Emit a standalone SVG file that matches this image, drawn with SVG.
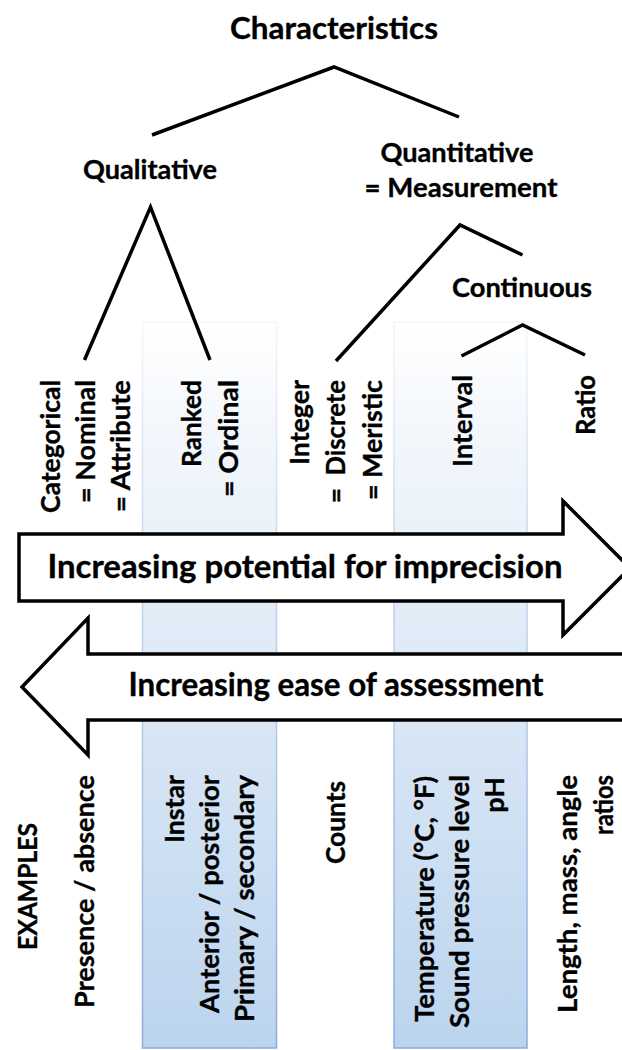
<svg xmlns="http://www.w3.org/2000/svg" width="622" height="1050" viewBox="0 0 622 1050">
  <defs>
    <linearGradient id="bandFill" gradientUnits="userSpaceOnUse" x1="0" y1="322" x2="0" y2="1048">
      <stop offset="0" stop-color="#ffffff"/>
      <stop offset="0.15" stop-color="#f3f7fc"/>
      <stop offset="1" stop-color="#bbd4ee"/>
    </linearGradient>
    <linearGradient id="bandStroke" gradientUnits="userSpaceOnUse" x1="0" y1="322" x2="0" y2="1048">
      <stop offset="0" stop-color="#f4f6fa"/>
      <stop offset="0.3" stop-color="#c9d8f0"/>
      <stop offset="1" stop-color="#8eaadb"/>
    </linearGradient>
  </defs>
  <style>
    text { font-family: Lato, "Open Sans", "Liberation Sans", sans-serif; font-weight: bold; fill: #000; stroke: #000; stroke-width: 0.35px; }
    .title { font-size: 31px; }
    .lbl { font-size: 27px; }
    .col { font-size: 27px; }
    .arr { font-size: 32px; }
    .band { fill: url(#bandFill); stroke: url(#bandStroke); stroke-width: 1.5; }
    .conn { stroke: #000; stroke-width: 3.5; fill: none; stroke-linecap: butt; stroke-linejoin: miter; }
    .arrow { fill: #fff; stroke: #000; stroke-width: 3.5; stroke-linejoin: miter; }
  </style>

  <rect width="622" height="1050" fill="#ffffff"/>

  <!-- shaded columns -->
  <g id="bands">
    <rect class="band" x="142.5" y="322" width="134" height="726"/>
    <rect class="band" x="394" y="322" width="133" height="726"/>
  </g>

  <!-- connectors -->
  <g id="connectors">
    <polyline class="conn" points="152,135 334,67 459,117"/>
    <polyline class="conn" points="84.5,360 150.5,207 210,360"/>
    <polyline class="conn" points="336,361 460,225 522.5,255"/>
    <polyline class="conn" points="461.5,356 522.5,325 585,355"/>
  </g>

  <g id="node-characteristics">
    <text class="title" x="334" y="39" text-anchor="middle" textLength="208" lengthAdjust="spacingAndGlyphs">Characteristics</text>
  </g>
  <g id="node-qualitative">
    <text class="lbl" x="150" y="179" text-anchor="middle" textLength="134" lengthAdjust="spacingAndGlyphs">Qualitative</text>
  </g>
  <g id="node-quantitative">
    <text class="lbl" x="457" y="162" text-anchor="middle" textLength="153" lengthAdjust="spacingAndGlyphs">Quantitative</text>
    <text class="lbl" x="461" y="197" text-anchor="middle" textLength="193" lengthAdjust="spacingAndGlyphs">= Measurement</text>
  </g>
  <g id="node-continuous">
    <text class="lbl" x="522" y="297" text-anchor="middle" textLength="140" lengthAdjust="spacingAndGlyphs">Continuous</text>
  </g>

  <g id="node-categorical">
    <text class="col" x="59.5" y="380" text-anchor="end" transform="rotate(-90 59.5 380)" textLength="133" lengthAdjust="spacingAndGlyphs">Categorical</text>
    <text class="col" x="94.5" y="380" text-anchor="end" transform="rotate(-90 94.5 380)" textLength="123" lengthAdjust="spacingAndGlyphs">= Nominal</text>
    <text class="col" x="130" y="380" text-anchor="end" transform="rotate(-90 130 380)" textLength="132" lengthAdjust="spacingAndGlyphs">= Attribute</text>
  </g>
  <g id="node-ranked">
    <text class="col" x="201" y="380" text-anchor="end" transform="rotate(-90 201 380)" textLength="87" lengthAdjust="spacingAndGlyphs">Ranked</text>
    <text class="col" x="238" y="380" text-anchor="end" transform="rotate(-90 238 380)" textLength="117" lengthAdjust="spacingAndGlyphs">= Ordinal</text>
  </g>
  <g id="node-integer">
    <text class="col" x="309" y="380" text-anchor="end" transform="rotate(-90 309 380)" textLength="85" lengthAdjust="spacingAndGlyphs">Integer</text>
    <text class="col" x="345" y="380" text-anchor="end" transform="rotate(-90 345 380)" textLength="123" lengthAdjust="spacingAndGlyphs" xml:space="preserve">=  Discrete</text>
    <text class="col" x="382" y="380" text-anchor="end" transform="rotate(-90 382 380)" textLength="120" lengthAdjust="spacingAndGlyphs">= Meristic</text>
  </g>
  <g id="node-interval">
    <text class="col" x="472" y="375" text-anchor="end" transform="rotate(-90 472 375)" textLength="92" lengthAdjust="spacingAndGlyphs">Interval</text>
  </g>
  <g id="node-ratio">
    <text class="col" x="595" y="375" text-anchor="end" transform="rotate(-90 595 375)" textLength="60" lengthAdjust="spacingAndGlyphs">Ratio</text>
  </g>

  <g id="arrow-imprecision">
    <polygon class="arrow" points="19,534 563,534 563,501 630,568 563,635 563,601 19,601"/>
    <text class="arr" x="305" y="578" text-anchor="middle" textLength="515" lengthAdjust="spacingAndGlyphs">Increasing potential for imprecision</text>
  </g>
  <g id="arrow-ease">
    <polygon class="arrow" points="22,687 88,618 88,654 640,654 640,720 88,720 88,755"/>
    <text class="arr" x="336" y="696" text-anchor="middle" textLength="415" lengthAdjust="spacingAndGlyphs">Increasing ease of assessment</text>
  </g>

  <g id="examples-label">
    <text class="col" x="36.5" y="886.5" text-anchor="middle" transform="rotate(-90 36.5 886.5)" textLength="127" lengthAdjust="spacingAndGlyphs">EXAMPLES</text>
  </g>
  <g id="example-categorical">
    <text class="col" x="94" y="775" text-anchor="end" transform="rotate(-90 94 775)" textLength="233" lengthAdjust="spacingAndGlyphs">Presence / absence</text>
  </g>
  <g id="example-ranked">
    <text class="col" x="184" y="775" text-anchor="end" transform="rotate(-90 184 775)" textLength="68" lengthAdjust="spacingAndGlyphs">Instar</text>
    <text class="col" x="219" y="775" text-anchor="end" transform="rotate(-90 219 775)" textLength="238" lengthAdjust="spacingAndGlyphs">Anterior / posterior</text>
    <text class="col" x="254" y="775" text-anchor="end" transform="rotate(-90 254 775)" textLength="247" lengthAdjust="spacingAndGlyphs">Primary / secondary</text>
  </g>
  <g id="example-integer">
    <text class="col" x="345" y="781" text-anchor="end" transform="rotate(-90 345 781)" textLength="83" lengthAdjust="spacingAndGlyphs">Counts</text>
  </g>
  <g id="example-interval">
    <text class="col" x="434" y="776" text-anchor="end" transform="rotate(-90 434 776)" textLength="246" lengthAdjust="spacingAndGlyphs">Temperature (°C, °F)</text>
    <text class="col" x="469" y="775" text-anchor="end" transform="rotate(-90 469 775)" textLength="253" lengthAdjust="spacingAndGlyphs">Sound pressure level</text>
    <text class="col" x="504" y="777" text-anchor="end" transform="rotate(-90 504 777)">pH</text>
  </g>
  <g id="example-ratio">
    <text class="col" x="577" y="775" text-anchor="end" transform="rotate(-90 577 775)" textLength="238" lengthAdjust="spacingAndGlyphs">Length, mass, angle</text>
    <text class="col" x="613" y="775" text-anchor="end" transform="rotate(-90 613 775)" textLength="60" lengthAdjust="spacingAndGlyphs">ratios</text>
  </g>
</svg>
